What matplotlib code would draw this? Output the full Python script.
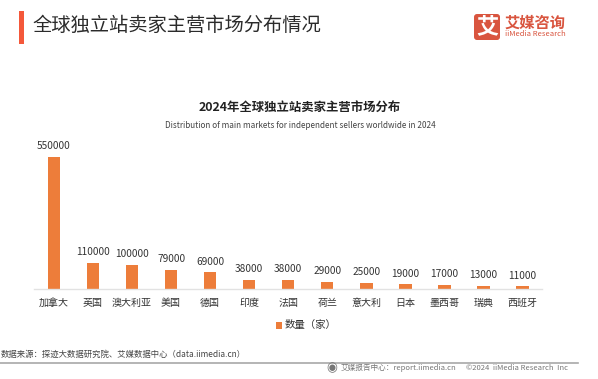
"""Bar chart of main markets for independent sellers worldwide in 2024."""

import matplotlib

matplotlib.use("Agg")
import matplotlib.pyplot as plt
from matplotlib.patches import FancyBboxPatch, Rectangle

plt.rcParams["font.family"] = ["Noto Sans CJK SC", "DejaVu Sans"]

WIDTH, HEIGHT = 598, 379

countries = ["加拿大", "英国", "澳大利亚", "美国", "德国", "印度", "法国", "荷兰", "意大利", "日本", "墨西哥", "瑞典", "西班牙"]
seller_counts = [550000, 110000, 100000, 79000, 69000, 38000, 38000, 29000, 25000, 19000, 17000, 13000, 11000]

BAR_COLOR = "#ed7d3a"
TEXT_COLOR = "#333333"

fig = plt.figure(figsize=(WIDTH / 100, HEIGHT / 100), dpi=100, facecolor="white")

# Overlay in pixel coordinates for the page furniture
page = fig.add_axes([0, 0, 1, 1])
page.set_xlim(0, WIDTH)
page.set_ylim(HEIGHT, 0)
page.axis("off")

page.add_patch(Rectangle((19, 11), 5.3, 33, color="#f4583a", lw=0))
page.text(32, 25.5, "全球独立站卖家主营市场分布情况", fontsize=13.9, color="#2b2b2b", va="center", ha="left")

# Logo
page.add_patch(FancyBboxPatch((474, 14), 26, 26, boxstyle="round,pad=0,rounding_size=3", color="#d9553f", lw=0))
page.text(487, 26.5, "艾", fontsize=16, fontweight="bold", color="white", ha="center", va="center")
page.text(505, 22.5, "艾媒咨询", fontsize=11, fontweight="bold", color="#d9553f", ha="left", va="center")
page.text(505, 34.5, "iiMedia Research", fontsize=5.5, color="#d9553f", ha="left", va="center")

page.text(300, 107, "2024年全球独立站卖家主营市场分布", fontsize=8.9, fontweight="bold", color="#222222", ha="center", va="center")
page.text(300, 125, "Distribution of main markets for independent sellers worldwide in 2024", fontsize=5.9, color="#444444", ha="center", va="center")

# Legend
page.add_patch(Rectangle((275.5, 322), 6.5, 6.5, color=BAR_COLOR, lw=0))
page.text(285, 325, "数量（家）", fontsize=7.5, color=TEXT_COLOR, ha="left", va="center")

# Footer
page.text(1, 354, "数据来源：探迹大数据研究院、艾媒数据中心（data.iimedia.cn）", fontsize=6, color="#444444", ha="left", va="center")
page.plot([0, 578], [362.5, 362.5], color="#a8a8a8", lw=1.2)
page.text(332, 367.5, "◉", fontsize=9, color="#777777", ha="center", va="center", family=["DejaVu Sans"])
page.text(341, 368, "艾媒报告中心：report.iimedia.cn", fontsize=5.5, color="#777777", ha="left", va="center")
page.text(568, 368, "©2024  iiMedia Research  Inc", fontsize=5.5, color="#777777", ha="right", va="center")

# Chart axes: baseline at y=289 px, 550000 reaches y=157 px
ax_top, ax_bottom = 130, 289
ax = fig.add_axes([34.4 / WIDTH, 1 - ax_bottom / HEIGHT, 507.6 / WIDTH, (ax_bottom - ax_top) / HEIGHT])
ax.patch.set_alpha(0)
positions = range(len(countries))
bars = ax.bar(positions, seller_counts, width=0.32, color=BAR_COLOR, linewidth=0)
ax.set_xlim(-0.5, len(countries) - 0.5)
ax.set_ylim(0, 550000 * (ax_bottom - ax_top) / 132)
ax.bar_label(bars, labels=[str(v) for v in seller_counts], padding=4, fontsize=7.3, color=TEXT_COLOR)

ax.set_xticks(list(positions), countries, fontsize=7.2, color=TEXT_COLOR)
ax.tick_params(axis="x", length=0, pad=6.5)
ax.yaxis.set_visible(False)
for side in ["top", "left", "right"]:
    ax.spines[side].set_visible(False)
ax.spines["bottom"].set_color("#e2e2e2")
ax.spines["bottom"].set_linewidth(1)

fig.savefig("out.png", dpi=100)
